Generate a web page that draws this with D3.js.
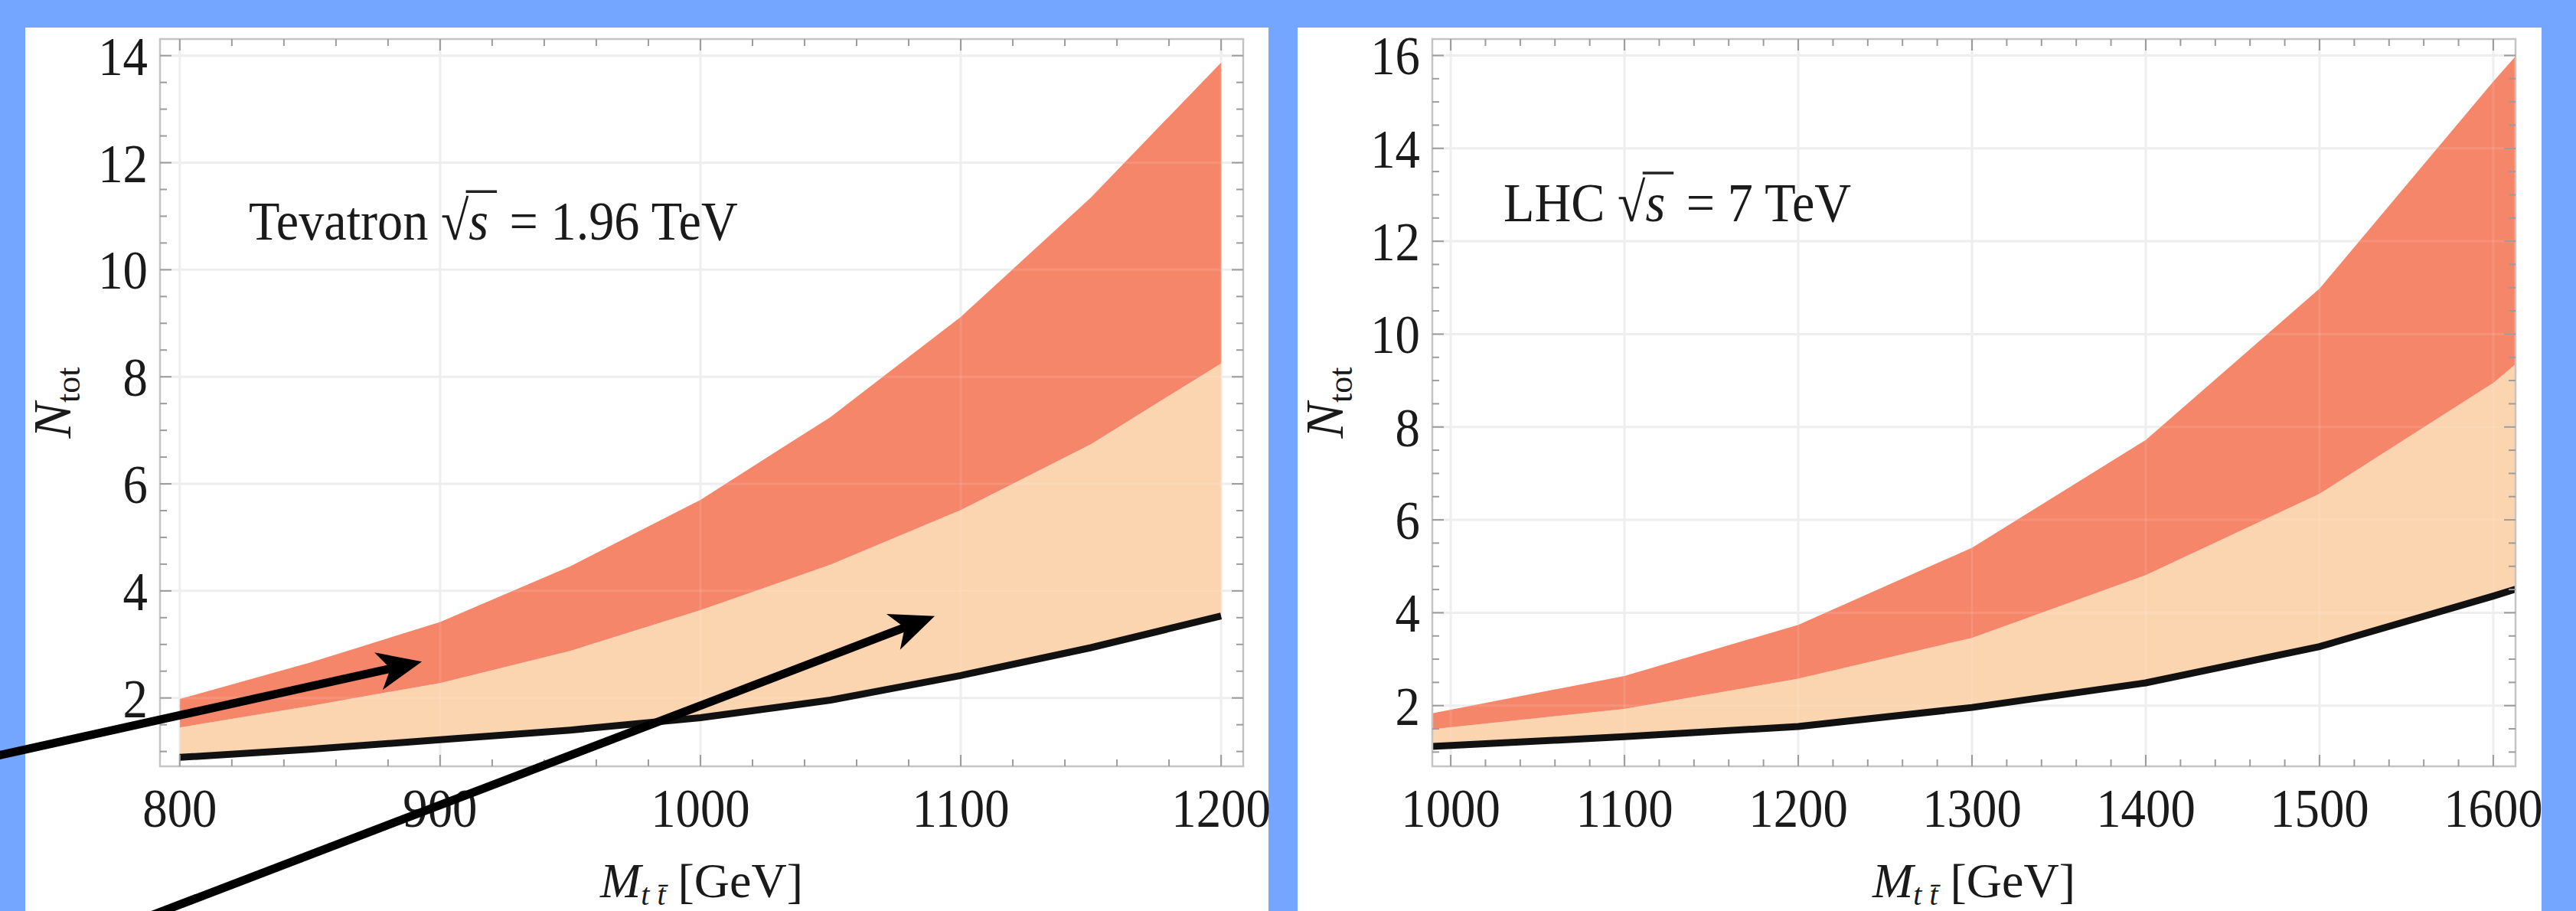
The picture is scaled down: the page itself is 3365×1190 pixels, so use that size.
<!DOCTYPE html>
<html>
<head>
<meta charset="utf-8">
<script src="https://cdn.jsdelivr.net/npm/d3@7"></script>
<style>
  html, body { margin: 0; padding: 0; background: #75a6ff; }
  svg { display: block; }
  text { font-family: "Liberation Serif", "Times New Roman", serif; fill: #1a1a1a; }
</style>
</head>
<body>
<div id="vis"></div>
<script>
// ----------------
// 1. Data
// ----------------
// Tevatron, sqrt(s) = 1.96 TeV
const tevMass   = [800, 850, 900, 950, 1000, 1050, 1100, 1150, 1200];
const tevUpper  = [1.98, 2.66, 3.42, 4.46, 5.70, 7.25, 9.12, 11.35, 13.87];
const tevMiddle = [1.45, 1.85, 2.28, 2.88, 3.64, 4.49, 5.51, 6.74, 8.25];
const tevLower  = [0.89, 1.04, 1.22, 1.40, 1.63, 1.96, 2.42, 2.94, 3.53];

// LHC, sqrt(s) = 7 TeV (the curves run to the frame edges)
const lhcMass   = [989, 1100, 1200, 1300, 1400, 1500, 1600, 1613];
const lhcUpper  = [1.83, 2.64, 3.74, 5.40, 7.72, 10.98, 15.44, 15.99];
const lhcMiddle = [1.49, 1.93, 2.58, 3.46, 4.81, 6.56, 8.95, 9.36];
const lhcLower  = [1.12, 1.33, 1.55, 1.96, 2.49, 3.27, 4.36, 4.51];

// tick labels
const tevXTicks = [800, 900, 1000, 1100, 1200];
const tevYTicks = [2, 4, 6, 8, 10, 12, 14];
const lhcXTicks = [1000, 1100, 1200, 1300, 1400, 1500, 1600];
const lhcYTicks = [2, 4, 6, 8, 10, 12, 14, 16];

// arrows pointing into the left panel, in data coordinates
const tevArrows = [
    {from: [728, 0.90], to: [893, 2.68]},
    {from: [786, -2.12], to: [1090, 3.53]}
];

// ----------------
// 2. Dimensions
// ----------------
const width = 3365, height = 1190;
const colors = {
    page: "#75a6ff",
    orange: "#f5866a",
    peach: "#fbd4b0",
    line: "#111111",
    frame: "#c4c4c4",
    tick: "#9c9c9c",
    grid: "#ececec"
};

const panels = [
    {
        box: {x0: 33, x1: 1657, y0: 36},
        frame: {left: 209, right: 1624, top: 51, bottom: 1001},
        xDomain: [792.4, 1208.5], yDomain: [0.723, 14.31],
        mass: tevMass, upper: tevUpper, middle: tevMiddle, lower: tevLower,
        xTicks: tevXTicks, yTicks: tevYTicks,
        note: {x: 826.5, y: 10.56, name: "Tevatron", value: "1.96 TeV"},
        arrows: tevArrows
    },
    {
        box: {x0: 1695, x1: 3320, y0: 36},
        frame: {left: 1871, right: 3286, top: 51, bottom: 1001},
        xDomain: [989.4, 1612.8], yDomain: [0.693, 16.354],
        mass: lhcMass, upper: lhcUpper, middle: lhcMiddle, lower: lhcLower,
        xTicks: lhcXTicks, yTicks: lhcYTicks,
        note: {x: 1030.4, y: 12.43, name: "LHC", value: "7 TeV"},
        arrows: []
    }
];

// ----------------
// 3. SVG
// ----------------
const svg = d3.select("#vis")
    .append("svg")
    .attr("width", width)
    .attr("height", height);

svg.append("rect")
    .attr("width", width)
    .attr("height", height)
    .attr("fill", colors.page);

const defs = svg.append("defs");

// condensed serif text, like the stretched original
function label(g, x, y, str, size, anchor, sx) {
    return g.append("text")
        .attr("transform", `translate(${x},${y}) scale(${sx},1)`)
        .attr("text-anchor", anchor)
        .style("font-size", size + "px")
        .text(str);
}

panels.forEach((p, i) => {
    const f = p.frame;

    // white card
    svg.append("rect")
        .attr("x", p.box.x0)
        .attr("y", p.box.y0)
        .attr("width", p.box.x1 - p.box.x0)
        .attr("height", height - p.box.y0)
        .attr("fill", "#ffffff");

    const g = svg.append("g");

    // ----------------
    // 4. Scales
    // ----------------
    const xScale = d3.scaleLinear().domain(p.xDomain).range([f.left, f.right]);
    const yScale = d3.scaleLinear().domain(p.yDomain).range([f.bottom, f.top]);

    defs.append("clipPath").attr("id", "clip" + i)
        .append("rect")
        .attr("x", f.left).attr("y", f.top)
        .attr("width", f.right - f.left).attr("height", f.bottom - f.top);

    const xMinor = d3.range(Math.ceil(p.xDomain[0] / 20) * 20, p.xDomain[1], 20);
    const yMinor = d3.range(Math.ceil(p.yDomain[0] * 2) / 2, p.yDomain[1], 0.5);
    const xMajor = xMinor.filter(d => d % 100 === 0);
    const yMajor = yMinor.filter(d => d % 2 === 0);

    // grid under the bands
    const grid = g.append("g").attr("stroke", colors.grid).attr("stroke-width", 3);
    grid.selectAll(".gx").data(xMajor).join("line")
        .attr("x1", d => xScale(d)).attr("x2", d => xScale(d))
        .attr("y1", f.top).attr("y2", f.bottom);
    grid.selectAll(".gy").data(yMajor).join("line")
        .attr("y1", d => yScale(d)).attr("y2", d => yScale(d))
        .attr("x1", f.left).attr("x2", f.right);

    // ----------------
    // 5. Bands and line
    // ----------------
    const rows = p.mass.map((m, k) => ({m: m, up: p.upper[k], mid: p.middle[k], low: p.lower[k]}));
    const plot = g.append("g").attr("clip-path", `url(#clip${i})`);

    plot.append("path")
        .datum(rows)
        .attr("fill", colors.peach)
        .attr("d", d3.area().x(d => xScale(d.m)).y0(d => yScale(d.low)).y1(d => yScale(d.mid)));

    plot.append("path")
        .datum(rows)
        .attr("fill", colors.orange)
        .attr("d", d3.area().x(d => xScale(d.m)).y0(d => yScale(d.mid)).y1(d => yScale(d.up)));

    // faint grid showing through the fills
    const over = plot.append("g").attr("stroke", "#ffffff").attr("stroke-opacity", 0.1).attr("stroke-width", 3);
    over.selectAll(".ox").data(xMajor).join("line")
        .attr("x1", d => xScale(d)).attr("x2", d => xScale(d))
        .attr("y1", f.top).attr("y2", f.bottom);
    over.selectAll(".oy").data(yMajor).join("line")
        .attr("y1", d => yScale(d)).attr("y2", d => yScale(d))
        .attr("x1", f.left).attr("x2", f.right);

    plot.append("path")
        .datum(rows)
        .attr("fill", "none")
        .attr("stroke", colors.line)
        .attr("stroke-width", 9)
        .attr("d", d3.line().x(d => xScale(d.m)).y(d => yScale(d.low)));

    // ----------------
    // 6. Frame and ticks
    // ----------------
    g.append("rect")
        .attr("x", f.left).attr("y", f.top)
        .attr("width", f.right - f.left).attr("height", f.bottom - f.top)
        .attr("fill", "none")
        .attr("stroke", colors.frame)
        .attr("stroke-width", 2.5);

    const ticks = g.append("g").attr("stroke", colors.tick).attr("stroke-width", 2);
    const len = (major) => major ? 15 : 9;
    xMinor.forEach(d => {
        const L = len(d % 100 === 0);
        ticks.append("line").attr("x1", xScale(d)).attr("x2", xScale(d)).attr("y1", f.bottom).attr("y2", f.bottom - L);
        ticks.append("line").attr("x1", xScale(d)).attr("x2", xScale(d)).attr("y1", f.top).attr("y2", f.top + L);
    });
    yMinor.forEach(d => {
        const L = len(d % 2 === 0);
        ticks.append("line").attr("y1", yScale(d)).attr("y2", yScale(d)).attr("x1", f.left).attr("x2", f.left + L);
        ticks.append("line").attr("y1", yScale(d)).attr("y2", yScale(d)).attr("x1", f.right).attr("x2", f.right - L);
    });

    // tick labels
    p.xTicks.forEach(d => label(g, xScale(d), f.bottom + 79, d, 72, "middle", 0.9));
    p.yTicks.forEach(d => label(g, f.left - 16, yScale(d) + 25, d, 72, "end", 0.9));

    // axis titles
    const yTitle = g.append("text")
        .attr("transform", `translate(${f.left - 117},${(f.top + f.bottom) / 2}) rotate(-90)`)
        .attr("text-anchor", "middle")
        .style("font-size", "70px");
    yTitle.append("tspan").style("font-style", "italic").text("N");
    yTitle.append("tspan").attr("dy", 12).style("font-size", "44px").text("tot");

    const xTitle = g.append("text")
        .attr("x", (f.left + f.right) / 2)
        .attr("y", 1172)
        .attr("text-anchor", "middle")
        .style("font-size", "64px");
    xTitle.append("tspan").style("font-style", "italic").text("M");
    xTitle.append("tspan").attr("dy", 10).style("font-size", "40px").style("font-style", "italic").text("t t\u0304");
    xTitle.append("tspan").attr("dy", -10).text(" [GeV]");

    // note with the square root
    const nx = xScale(p.note.x), ny = yScale(p.note.y);
    const ng = g.append("g").attr("transform", `translate(${nx},${ny}) scale(0.92,1)`);
    const nt = ng.append("text").style("font-size", "72px");
    nt.append("tspan").text(p.note.name + " ");
    nt.append("tspan").text("\u221A");
    nt.append("tspan").style("font-style", "italic").text("s");
    nt.append("tspan").attr("dx", 30).text("= " + p.note.value);
    const rootIdx = p.note.name.length + 1;
    const node = nt.node();
    const rx0 = node.getEndPositionOfChar(rootIdx).x - 4;
    const rx1 = node.getEndPositionOfChar(rootIdx + 1).x + 12;
    ng.append("line")
        .attr("x1", rx0).attr("x2", rx1)
        .attr("y1", -63).attr("y2", -63)
        .attr("stroke", "#222")
        .attr("stroke-width", 3.5);

    // arrows
    p.arrows.forEach(a => {
        const x0 = xScale(a.from[0]), y0 = yScale(a.from[1]);
        const x1 = xScale(a.to[0]), y1 = yScale(a.to[1]);
        const ang = Math.atan2(y1 - y0, x1 - x0);
        const head = 58, half = 25, notch = 16;
        const ux = Math.cos(ang), uy = Math.sin(ang);
        const bx = x1 - ux * head, by = y1 - uy * head;
        svg.append("line")
            .attr("x1", x0).attr("y1", y0)
            .attr("x2", x1 - ux * (head - notch)).attr("y2", y1 - uy * (head - notch))
            .attr("stroke", "#000")
            .attr("stroke-width", 11);
        svg.append("path")
            .attr("fill", "#000")
            .attr("d", `M${x1},${y1} L${bx - uy * half},${by + ux * half} L${x1 - ux * (head - notch)},${y1 - uy * (head - notch)} L${bx + uy * half},${by - ux * half} Z`);
    });
});
</script>
</body>
</html>
